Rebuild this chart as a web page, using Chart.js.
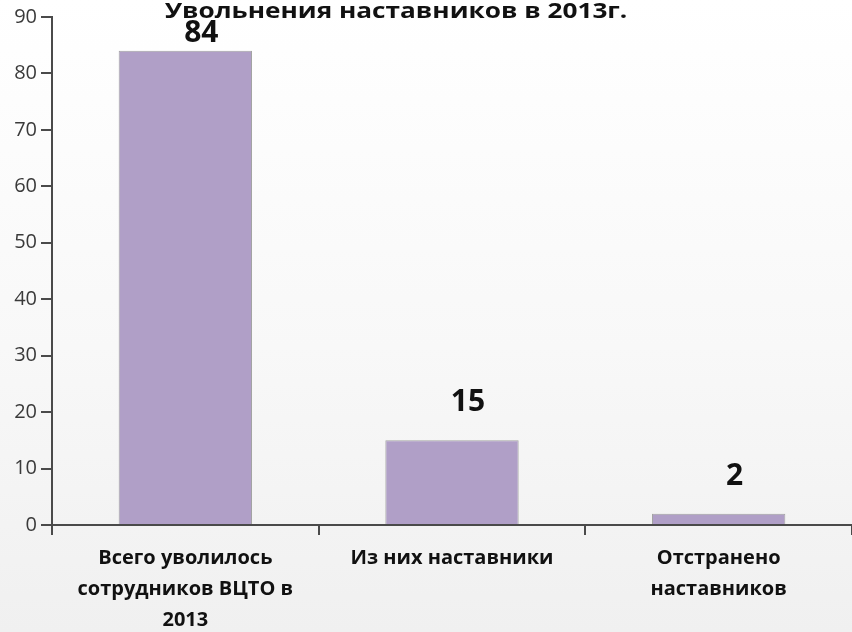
<!DOCTYPE html>
<html>
<head>
<meta charset="utf-8">
<script src="https://cdn.jsdelivr.net/npm/chart.js@4/dist/chart.umd.min.js"></script>
<style>
  html, body { margin: 0; padding: 0; }
  body { width: 852px; height: 632px; background: linear-gradient(180deg, #ffffff 0%, #f8f8f8 55%, #f0f0f0 100%); }
  canvas { display: block; }
</style>
</head>
<body>
<canvas id="chart" width="852" height="632"></canvas>
<script>
const titleText = 'Увольнения наставников в 2013г.';
const categories = [
    ['Всего уволилось', 'сотрудников ВЦТО в', '2013'],
    ['Из них наставники'],
    ['Отстранено', 'наставников']
];
const values = [84, 15, 2];
const yTicks = [0, 10, 20, 30, 40, 50, 60, 70, 80, 90];

const fontFamily = '"Open Sans", "DejaVu Sans", sans-serif';

// title + value labels drawn by hand (the source text is a bit stretched sideways)
const labelPlugin = {
    id: 'labels',
    afterDatasetsDraw(chart) {
        const ctx = chart.ctx;
        const meta = chart.getDatasetMeta(0);
        ctx.save();
        ctx.fillStyle = '#111';
        ctx.textAlign = 'center';
        ctx.textBaseline = 'alphabetic';
        ctx.font = 'bold 30px ' + fontFamily;
        meta.data.forEach(function(bar, i) {
            const y = Math.max(bar.y - 29, chart.chartArea.top + 25);
            ctx.fillText(String(values[i]), bar.x + 16, y);
        });
        ctx.font = 'bold 22px ' + fontFamily;
        ctx.translate(396, 18);
        ctx.scale(1.19, 1);
        ctx.fillText(titleText, 0, 0);
        ctx.restore();
    }
};

new Chart(document.getElementById('chart').getContext('2d'), {
    type: 'bar',
    data: {
        labels: categories,
        datasets: [{
            data: values,
            backgroundColor: '#b09fc7',
            borderColor: '#a3a3a3',
            borderWidth: 1,
            barPercentage: 0.5,
            categoryPercentage: 1.0
        }]
    },
    options: {
        responsive: false,
        animation: false,
        devicePixelRatio: 1,
        layout: { padding: { top: 17, right: 0, left: 0, bottom: 0 } },
        plugins: {
            legend: { display: false },
            title: { display: false },
            tooltip: { enabled: false }
        },
        scales: {
            x: {
                grid: {
                    offset: true,
                    drawOnChartArea: false,
                    drawTicks: true,
                    tickLength: 10,
                    color: '#4a4a4a',
                    lineWidth: 2
                },
                border: { color: '#4a4a4a', width: 2 },
                ticks: {
                    color: '#111',
                    padding: 8,
                    maxRotation: 0,
                    autoSkip: false,
                    font: { family: fontFamily, size: 20, weight: 'bold', lineHeight: 1.55 }
                },
                afterFit(scale) { scale.height = 107; }
            },
            y: {
                min: 0,
                max: 90,
                afterBuildTicks(scale) { scale.ticks = yTicks.map(v => ({ value: v })); },
                grid: {
                    drawOnChartArea: false,
                    drawTicks: true,
                    tickLength: 11,
                    color: '#4a4a4a',
                    lineWidth: 2
                },
                border: { color: '#4a4a4a', width: 2 },
                ticks: {
                    color: '#3a3a3a',
                    padding: 4,
                    font: { family: fontFamily, size: 20 }
                },
                afterFit(scale) { scale.width = 52; }
            }
        }
    },
    plugins: [labelPlugin]
});
</script>
</body>
</html>
